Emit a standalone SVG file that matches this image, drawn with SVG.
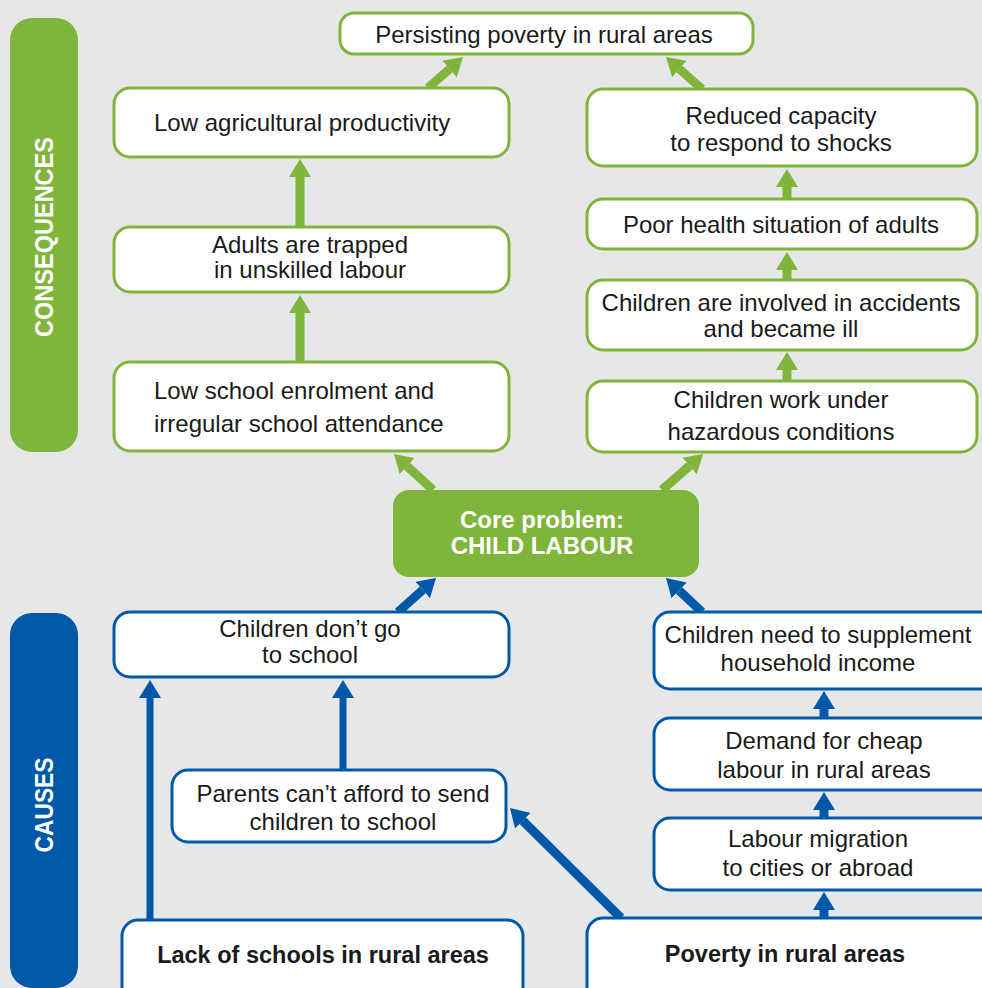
<svg xmlns="http://www.w3.org/2000/svg" width="982" height="988" viewBox="0 0 982 988">
<defs>
<style>
.bg{fill:#e6e7e9}
.gbox{fill:#ffffff;stroke:#80b53b;stroke-width:3}
.bbox{fill:#ffffff;stroke:#0059a8;stroke-width:3}
.t{font-family:"Liberation Sans",Arial,sans-serif;font-size:24px;fill:#1a1a1a;text-anchor:middle}
.tl{text-anchor:start}
.b{font-weight:bold}
.w{fill:#ffffff}
.ga{stroke:#80b53b;stroke-width:9;fill:none}
.ba{stroke:#0059a8;stroke-width:9;fill:none}
.bav{stroke:#0059a8;stroke-width:7;fill:none}
</style>
<marker id="gh" markerUnits="userSpaceOnUse" markerWidth="18" markerHeight="22" refX="0" refY="11" orient="auto" viewBox="0 0 18 22">
<path d="M0,0 L18,11 L0,22 z" fill="#80b53b"/>
</marker>
<marker id="bh" markerUnits="userSpaceOnUse" markerWidth="18" markerHeight="22" refX="0" refY="11" orient="auto" viewBox="0 0 18 22">
<path d="M0,0 L18,11 L0,22 z" fill="#0059a8"/>
</marker>
</defs>
<rect class="bg" x="0" y="0" width="982" height="988"/>

<g id="band-consequences">
<rect x="10" y="18" width="68" height="434" rx="22" fill="#80b53b"/>
<text class="t b w" transform="translate(53,237) rotate(-90)" font-size="26" textLength="200" lengthAdjust="spacingAndGlyphs" style="font-size:26px">CONSEQUENCES</text>
</g>
<g id="band-causes">
<rect x="10" y="613" width="68" height="375" rx="22" fill="#0059a8"/>
<text class="t b w" transform="translate(53,805) rotate(-90)" textLength="95" lengthAdjust="spacingAndGlyphs" style="font-size:26px">CAUSES</text>
</g>

<g id="connectors">
<!-- green -->
<line class="ga" x1="428" y1="88" x2="449.5" y2="69" marker-end="url(#gh)"/>
<line class="ga" x1="702" y1="89" x2="679.4" y2="69" marker-end="url(#gh)"/>
<line class="ga" x1="300" y1="227" x2="300" y2="177" marker-end="url(#gh)"/>
<line class="ga" x1="300" y1="362" x2="300" y2="313" marker-end="url(#gh)"/>
<line class="ga" x1="787" y1="199" x2="787" y2="187" marker-end="url(#gh)"/>
<line class="ga" x1="787" y1="280" x2="787" y2="270" marker-end="url(#gh)"/>
<line class="ga" x1="787" y1="381" x2="787" y2="370" marker-end="url(#gh)"/>
<line class="ga" x1="433" y1="490" x2="407.2" y2="466.2" marker-end="url(#gh)"/>
<line class="ga" x1="662" y1="490" x2="689.5" y2="465.9" marker-end="url(#gh)"/>
<!-- blue -->
<line class="ba" x1="398" y1="612" x2="422.6" y2="590" marker-end="url(#bh)"/>
<line class="ba" x1="702" y1="612" x2="679.1" y2="590.4" marker-end="url(#bh)"/>
<line class="bav" x1="150" y1="920" x2="150" y2="698" marker-end="url(#bh)"/>
<line class="bav" x1="343" y1="770" x2="343" y2="698" marker-end="url(#bh)"/>
<line class="ba" x1="621" y1="918" x2="522.8" y2="820.7" marker-end="url(#bh)"/>
<line class="ba" x1="824" y1="718" x2="824" y2="709" marker-end="url(#bh)"/>
<line class="ba" x1="824" y1="818" x2="824" y2="810" marker-end="url(#bh)"/>
<line class="ba" x1="824" y1="918" x2="824" y2="910" marker-end="url(#bh)"/>
</g>

<g id="persisting-poverty">
<rect class="gbox" x="340" y="13" width="413" height="41" rx="14"/>
<text class="t" x="544" y="43">Persisting poverty in rural areas</text>
</g>
<g id="low-agri">
<rect class="gbox" x="114" y="88" width="395" height="69" rx="16"/>
<text class="t tl" x="154" y="131">Low agricultural productivity</text>
</g>
<g id="adults-trapped">
<rect class="gbox" x="114" y="227" width="395" height="65" rx="16"/>
<text class="t" x="310" y="253">Adults are trapped</text>
<text class="t" x="310" y="278">in unskilled labour</text>
</g>
<g id="low-school">
<rect class="gbox" x="114" y="362" width="395" height="89" rx="16"/>
<text class="t tl" x="154" y="399">Low school enrolment and</text>
<text class="t tl" x="154" y="432">irregular school attendance</text>
</g>
<g id="reduced-capacity">
<rect class="gbox" x="587" y="89" width="390" height="77" rx="16"/>
<text class="t" x="781" y="124">Reduced capacity</text>
<text class="t" x="781" y="151">to respond to shocks</text>
</g>
<g id="poor-health">
<rect class="gbox" x="587" y="199" width="390" height="50" rx="16"/>
<text class="t" x="781" y="233">Poor health situation of adults</text>
</g>
<g id="accidents">
<rect class="gbox" x="587" y="280" width="390" height="70" rx="16"/>
<text class="t" x="781" y="311">Children are involved in accidents</text>
<text class="t" x="781" y="337">and became ill</text>
</g>
<g id="hazardous">
<rect class="gbox" x="587" y="381" width="390" height="71" rx="16"/>
<text class="t" x="781" y="408">Children work under</text>
<text class="t" x="781" y="440">hazardous conditions</text>
</g>

<g id="core-problem">
<rect x="393" y="490" width="306" height="87" rx="16" fill="#80b53b"/>
<text class="t b w" x="542" y="528">Core problem:</text>
<text class="t b w" x="542" y="554">CHILD LABOUR</text>
</g>

<g id="dont-go">
<rect class="bbox" x="114" y="612" width="395" height="65" rx="16"/>
<text class="t" x="310" y="637">Children don’t go</text>
<text class="t" x="310" y="663">to school</text>
</g>
<g id="supplement">
<rect class="bbox" x="654" y="612" width="345" height="77" rx="16"/>
<text class="t" x="818" y="643">Children need to supplement</text>
<text class="t" x="818" y="671">household income</text>
</g>
<g id="demand">
<rect class="bbox" x="654" y="718" width="345" height="72" rx="16"/>
<text class="t" x="824" y="749">Demand for cheap</text>
<text class="t" x="824" y="778">labour in rural areas</text>
</g>
<g id="migration">
<rect class="bbox" x="654" y="818" width="345" height="72" rx="16"/>
<text class="t" x="818" y="847">Labour migration</text>
<text class="t" x="818" y="876">to cities or abroad</text>
</g>
<g id="parents">
<rect class="bbox" x="172" y="770" width="334" height="72" rx="16"/>
<text class="t" x="343" y="802">Parents can’t afford to send</text>
<text class="t" x="343" y="830">children to school</text>
</g>
<g id="lack-schools">
<rect class="bbox" x="122" y="920" width="401" height="90" rx="16"/>
<text class="t b" x="323" y="963" style="font-size:23.5px">Lack of schools in rural areas</text>
</g>
<g id="poverty">
<rect class="bbox" x="587" y="918" width="420" height="92" rx="16"/>
<text class="t b" x="785" y="962" style="font-size:23.5px">Poverty in rural areas</text>
</g>
</svg>
